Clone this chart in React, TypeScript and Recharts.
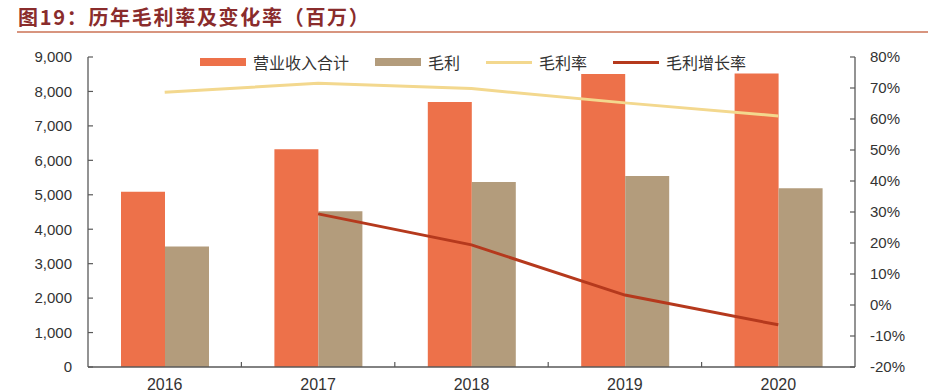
import React from 'react'
import { ComposedChart, Bar, Line, XAxis, YAxis, Legend } from 'recharts'

const YEARS = ['2016', '2017', '2018', '2019', '2020']
const REVENUE = [5090, 6320, 7690, 8510, 8520]
const GROSS = [3495, 4520, 5370, 5545, 5190]
const MARGIN = [68.6, 71.5, 69.8, 65.2, 61.0]
const GROWTH = [null, 29.4, 19.4, 3.2, -6.4]
const LEFT_TICKS = [0, 1000, 2000, 3000, 4000, 5000, 6000, 7000, 8000, 9000]
const RIGHT_TICKS = [-20, -10, 0, 10, 20, 30, 40, 50, 60, 70, 80]

const COLORS = {
  revenue: '#ED714A',
  gross: '#B39C7C',
  margin: '#F3D88E',
  growth: '#B5391D',
  axis: '#595959',
  text: '#333333',
  title: '#8A2C2C',
  rule: '#D8957F',
}

const W = 928
const H = 392
const LEFT_W = 88
const RIGHT_W = 73
const BAND = (W - LEFT_W - RIGHT_W) / YEARS.length

const data = YEARS.map((year, i) => ({
  year,
  revenue: REVENUE[i],
  gross: GROSS[i],
  margin: MARGIN[i],
  growth: GROWTH[i],
}))

const LEGEND = [
  { name: '营业收入合计', color: COLORS.revenue, kind: 'bar' },
  { name: '毛利', color: COLORS.gross, kind: 'bar' },
  { name: '毛利率', color: COLORS.margin, kind: 'line' },
  { name: '毛利增长率', color: COLORS.growth, kind: 'line' },
]

function YearTick({ x, y, payload, index }: any) {
  return (
    <g>
      {index > 0 && (
        <line x1={x - BAND / 2} x2={x - BAND / 2} y1={y} y2={y - 5} stroke={COLORS.axis} strokeWidth={1.2} />
      )}
      <text x={x} y={y + 23} textAnchor="middle" fontSize={16} fill={COLORS.text} fontFamily="'Liberation Sans', Arial, sans-serif">
        {payload.value}
      </text>
    </g>
  )
}

function LegendContent() {
  return (
    <div style={{ display: 'flex', alignItems: 'center', fontFamily: "'Noto Sans CJK SC', sans-serif", fontSize: 16, color: COLORS.text }}>
      {LEGEND.map((item) => (
        <div key={item.name} style={{ display: 'flex', alignItems: 'center', marginRight: 26 }}>
          <span
            style={{
              display: 'inline-block',
              width: 46,
              height: item.kind === 'bar' ? 8 : 3,
              background: item.color,
              marginRight: 7,
            }}
          />
          <span>{item.name}</span>
        </div>
      ))}
    </div>
  )
}

export default function App() {
  const tickStyle = { fontSize: 15, fill: COLORS.text, fontFamily: "'Liberation Sans', Arial, sans-serif" }
  return (
    <div style={{ position: 'absolute', left: 0, top: 0, width: W, height: H, background: '#fff' }}>
      <div
        style={{
          position: 'absolute',
          left: 18,
          top: 4,
          fontFamily: "'Noto Sans CJK SC', sans-serif",
          fontWeight: 700,
          fontSize: 20,
          letterSpacing: 1.7,
          color: COLORS.title,
          lineHeight: '26px',
        }}
      >
        图19：历年毛利率及变化率（百万）
      </div>
      <div style={{ position: 'absolute', left: 17, top: 31, width: W - 17, height: 2, background: COLORS.rule }} />
      <ComposedChart width={W} height={H} data={data} margin={{ top: 57, right: 0, bottom: 0, left: 0 }} barGap={0}>
        <XAxis
          dataKey="year"
          xAxisId="x"
          height={25}
          interval={0}
          tickSize={0}
          tickMargin={0}
          tickLine={false}
          axisLine={{ stroke: COLORS.axis, strokeWidth: 1.3 }}
          tick={<YearTick />}
        />
        <YAxis
          yAxisId="left"
          orientation="left"
          width={LEFT_W}
          domain={[0, 9000]}
          ticks={LEFT_TICKS}
          interval={0}
          tickSize={-5}
          tickMargin={21}
          tick={tickStyle}
          tickLine={{ stroke: COLORS.axis, strokeWidth: 1.2 }}
          axisLine={{ stroke: COLORS.axis, strokeWidth: 1.3 }}
          tickFormatter={(v: number) => v.toLocaleString('en-US')}
        />
        <YAxis
          yAxisId="right"
          orientation="right"
          width={RIGHT_W}
          domain={[-20, 80]}
          ticks={RIGHT_TICKS}
          interval={0}
          tickSize={-5}
          tickMargin={20}
          tick={{ ...tickStyle, textAnchor: 'start' }}
          tickLine={{ stroke: COLORS.axis, strokeWidth: 1.2 }}
          axisLine={{ stroke: COLORS.axis, strokeWidth: 1.3 }}
          tickFormatter={(v: number) => `${v}%`}
        />
        <Legend
          layout="horizontal"
          verticalAlign="middle"
          align="center"
          content={<LegendContent />}
          wrapperStyle={{ top: 50, left: 200, width: 660, height: 24 }}
        />
        <Bar xAxisId="x" yAxisId="left" dataKey="revenue" name="营业收入合计" fill={COLORS.revenue} barSize={44} isAnimationActive={false} />
        <Bar xAxisId="x" yAxisId="left" dataKey="gross" name="毛利" fill={COLORS.gross} barSize={44} isAnimationActive={false} />
        <Line xAxisId="x" yAxisId="right" dataKey="margin" name="毛利率" stroke={COLORS.margin} strokeWidth={3} dot={false} isAnimationActive={false} />
        <Line xAxisId="x" yAxisId="right" dataKey="growth" name="毛利增长率" stroke={COLORS.growth} strokeWidth={3} dot={false} isAnimationActive={false} />
      </ComposedChart>
    </div>
  )
}
